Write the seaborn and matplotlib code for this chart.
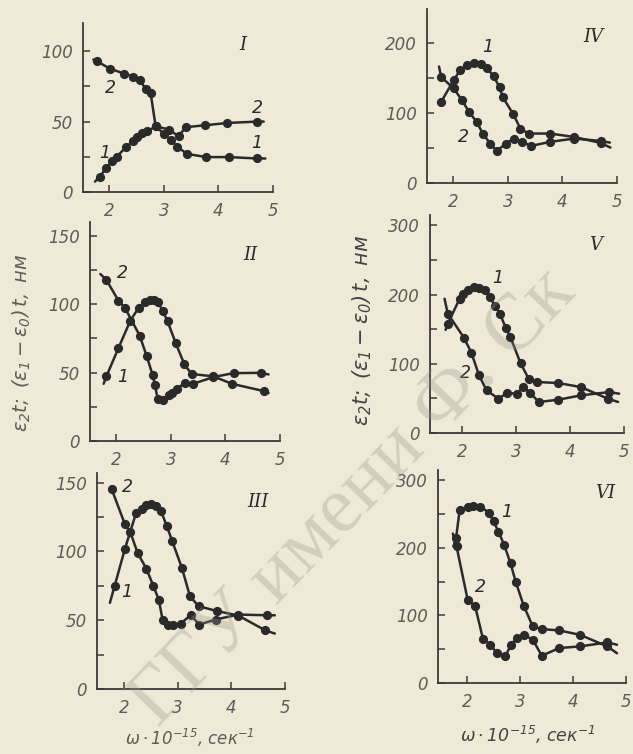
import matplotlib
matplotlib.use("Agg")
import matplotlib.pyplot as plt
import seaborn as sns
import pandas as pd

# ---------------- data (first/last entries are the line tails without markers) -------------
I_x1 = [1.74, 1.83, 1.94, 2.05, 2.14, 2.31, 2.44, 2.51, 2.60, 2.70, 2.85, 3.00, 3.13, 3.25, 3.43, 3.78, 4.20, 4.71, 4.86]
I_y1 = [7.4, 11, 16.9, 21.7, 25.2, 31.9, 36, 39, 42, 43, 46.7, 41.4, 37, 31.9, 27, 24.8, 24.8, 23.8, 23.8]
I_x2 = [1.71, 1.77, 2.01, 2.28, 2.44, 2.56, 2.67, 2.76, 2.85, 3.10, 3.27, 3.40, 3.76, 4.16, 4.71, 4.83]
I_y2 = [94, 93, 87.6, 84, 82, 79.5, 73, 70, 46.7, 44.3, 39.5, 46, 47.4, 49, 50, 50]

II_x1 = [1.77, 1.82, 2.04, 2.26, 2.41, 2.53, 2.62, 2.70, 2.76, 2.85, 2.94, 3.09, 3.25, 3.38, 3.78, 4.12, 4.70, 4.79]
II_y1 = [41.8, 47.2, 67.8, 88, 97.3, 101.4, 103, 103, 101.4, 95.3, 87.5, 71.5, 55.9, 49, 47.2, 41.8, 36.5, 35]
II_x2 = [1.71, 1.82, 2.04, 2.16, 2.43, 2.56, 2.67, 2.71, 2.76, 2.85, 2.96, 3.02, 3.11, 3.26, 3.41, 3.78, 4.15, 4.66, 4.79]
II_y2 = [122, 117.7, 102.6, 97.3, 77, 61.8, 47.9, 40.6, 30.9, 29.7, 33.3, 35, 38.2, 42.5, 41.8, 46.7, 49.6, 49.8, 48.6]

III_x1 = [1.74, 1.83, 2.02, 2.23, 2.33, 2.42, 2.51, 2.59, 2.69, 2.80, 2.90, 3.08, 3.23, 3.39, 3.74, 4.13, 4.63, 4.81]
III_y1 = [62.6, 75.2, 101.9, 128.2, 130.6, 133.5, 134.2, 133, 129.4, 118.4, 107.5, 88.1, 67.5, 60.2, 56.6, 53.4, 42.7, 40.3]
III_x2 = [1.76, 1.77, 2.02, 2.12, 2.26, 2.42, 2.55, 2.65, 2.72, 2.82, 2.92, 3.06, 3.25, 3.40, 3.71, 4.13, 4.66, 4.81]
III_y2 = [147, 145.6, 119.7, 114, 98.5, 87.4, 74.8, 65, 50.5, 46.8, 46.4, 47.6, 53.9, 46.8, 50.5, 54.1, 53.6, 53.6]

IV_x1 = [1.76, 1.78, 2.01, 2.13, 2.26, 2.38, 2.50, 2.62, 2.74, 2.85, 2.91, 3.10, 3.23, 3.38, 3.77, 4.21, 4.70, 4.88]
IV_y1 = [111, 115.7, 146.7, 161, 168, 170.5, 169.5, 163.3, 152.4, 136.2, 121.9, 98.1, 77.6, 70.5, 70.5, 65.7, 57.1, 50.5]
IV_x2 = [1.74, 1.78, 2.01, 2.16, 2.29, 2.43, 2.55, 2.68, 2.80, 2.96, 3.11, 3.26, 3.43, 3.77, 4.21, 4.70, 4.87]
IV_y2 = [166, 151, 134.8, 118, 101.4, 87, 69.5, 56, 45.7, 56, 63.3, 58.6, 52.9, 58.6, 63.3, 60, 57.6]

V_x1 = [1.69, 1.73, 1.95, 2.01, 2.11, 2.21, 2.31, 2.42, 2.51, 2.61, 2.70, 2.81, 2.89, 3.08, 3.23, 3.38, 3.78, 4.20, 4.70, 4.89]
V_y1 = [149, 158, 194, 201, 207, 211, 210, 206, 196, 184, 172, 151, 139, 101, 78.5, 73.7, 72.2, 66.4, 49.6, 44.8]
V_x2 = [1.67, 1.73, 2.03, 2.17, 2.31, 2.45, 2.67, 2.83, 3.01, 3.13, 3.26, 3.42, 3.78, 4.20, 4.73, 4.91]
V_y2 = [194, 172.4, 137.7, 115.6, 83.3, 61.6, 49.6, 57.8, 56.8, 66.4, 57.8, 44.8, 48.1, 54.4, 59.2, 56.8]

VI_x1 = [1.74, 1.79, 1.86, 2.01, 2.12, 2.25, 2.41, 2.50, 2.59, 2.70, 2.82, 2.92, 3.07, 3.24, 3.42, 3.74, 4.13, 4.65, 4.83]
VI_y1 = [202, 214, 256, 261, 262, 261, 252, 239, 224, 204, 177, 149, 114, 83.6, 79.7, 77.7, 71.3, 54, 44]
VI_x2 = [1.73, 1.80, 2.01, 2.15, 2.30, 2.44, 2.56, 2.72, 2.83, 2.94, 3.07, 3.24, 3.41, 3.74, 4.13, 4.65, 4.83]
VI_y2 = [221, 202, 123, 114, 65, 56.6, 44.3, 39.4, 56.6, 66.4, 71.3, 64, 40.3, 51.7, 54.1, 60, 56.6]

x_ticks = [2, 3, 4, 5]
x_label = r"$\omega\cdot10^{-15}$, сек$^{-1}$"
y_label = r"$\varepsilon_2 t;\ (\varepsilon_1-\varepsilon_0)\,t,$ нм"
panel_names = ["I", "II", "III", "IV", "V", "VI"]
watermark = "ГГУ имени Ф. Ск"

# ---------------- style -------------
sns.set_theme(style="white")
plt.rcParams["font.family"] = ["DejaVu Sans"]
plt.rcParams["font.style"] = "italic"
plt.rcParams["mathtext.fontset"] = "dejavusans"

BG = "#EFEAD7"
INK = "#2a2a2a"
GREY = "#5e5c58"
W, H = 633, 754

fig = plt.figure(figsize=(W / 100, H / 100), dpi=100, facecolor=BG)


def fx(p):
    return p / W


def fy(p):
    return 1 - p / H


def make_ax(L, T, R, B):
    return fig.add_axes([fx(L), fy(B), (R - L) / W, (B - T) / H])


panels = [
    # rect(px), xlim, ylim, major y, minor y, data
    ((83, 23, 273, 192), (1.52, 5.0), (0, 120), [0, 50, 100], [25, 75], (I_x1, I_y1, I_x2, I_y2)),
    ((90, 222, 280, 441), (1.52, 5.0), (0, 160), [0, 50, 100, 150], [25, 75, 125], (II_x1, II_y1, II_x2, II_y2)),
    ((97, 473, 285, 689), (1.50, 4.97), (0, 157), [0, 50, 100, 150], [25, 75, 125], (III_x1, III_y1, III_x2, III_y2)),
    ((427, 9, 617, 183), (1.52, 5.0), (0, 248), [0, 100, 200], [50, 150], (IV_x1, IV_y1, IV_x2, IV_y2)),
    ((430, 215, 624, 433), (1.40, 5.0), (0, 315), [0, 100, 200, 300], [50, 150, 250], (V_x1, V_y1, V_x2, V_y2)),
    ((438, 470, 626, 683), (1.45, 5.0), (0, 315), [0, 100, 200, 300], [50, 150, 250], (VI_x1, VI_y1, VI_x2, VI_y2)),
]

for rect, xl, yl, ymaj, ymin, (xa, ya, xb, yb) in panels:
    ax = make_ax(*rect)
    ax.set_facecolor("none")
    for xs, ys in ((xa, ya), (xb, yb)):
        df = pd.DataFrame({"x": xs, "y": ys})
        sns.lineplot(data=df, x="x", y="y", ax=ax, color=INK, lw=1.8,
                     estimator=None, sort=False)
        sns.scatterplot(data=df.iloc[1:-1], x="x", y="y", ax=ax, color=INK,
                        s=44, edgecolor=INK, linewidth=0, zorder=3)
    ax.set_xlim(*xl)
    ax.set_ylim(*yl)
    ax.set_xticks(x_ticks)
    ax.set_yticks(ymaj)
    ax.set_yticks(ymin, minor=True)
    ax.set_xlabel("")
    ax.set_ylabel("")
    for s in ("top", "right"):
        ax.spines[s].set_visible(False)
    for s in ("left", "bottom"):
        ax.spines[s].set_color("#3a3a3a")
        ax.spines[s].set_linewidth(1.3)
    ax.tick_params(which="both", direction="in", length=5, width=1.1,
                   color="#3a3a3a", labelcolor=GREY, labelsize=12, pad=7,
                   left=True, bottom=True)
    ax.tick_params(axis="y", which="minor", labelleft=False)
    ax.grid(False)

# panel numerals
num_pos = [(243, 45), (250, 255), (258, 502), (593, 37), (596, 245), (605, 493)]
for name, (px, py) in zip(panel_names, num_pos):
    fig.text(fx(px), fy(py), name, family="DejaVu Serif", fontsize=13,
             color=INK, ha="center", va="center")

# curve numbers
curve_labels = [
    ("2", 110, 88), ("1", 105, 153), ("2", 257, 108), ("1", 257, 143),
    ("2", 122, 273), ("1", 123, 377),
    ("2", 127, 487), ("1", 127, 592),
    ("1", 488, 47), ("2", 463, 137),
    ("1", 498, 278), ("2", 465, 373),
    ("1", 507, 512), ("2", 480, 587),
]
for t, px, py in curve_labels:
    fig.text(fx(px), fy(py), t, fontsize=12.5, color=INK, ha="center", va="center")

# axis titles
fig.text(fx(22), fy(343), y_label, rotation=90, fontsize=14, color=GREY,
         ha="center", va="center")
fig.text(fx(362), fy(330), y_label, rotation=90, fontsize=15, color="#444444",
         ha="center", va="center")
fig.text(fx(190), fy(738), x_label, fontsize=12, color=GREY, ha="center", va="center")
fig.text(fx(528), fy(735), x_label, fontsize=12.5, color="#444444", ha="center", va="center")

# library watermark of the scan
fig.text(fx(158), fy(728), watermark, family="Liberation Serif",
         style="normal", fontsize=58, color="#9a958c", alpha=0.33,
         rotation=46, rotation_mode="anchor", ha="left", va="baseline")

fig.savefig("out.png", dpi=100, facecolor=BG)
